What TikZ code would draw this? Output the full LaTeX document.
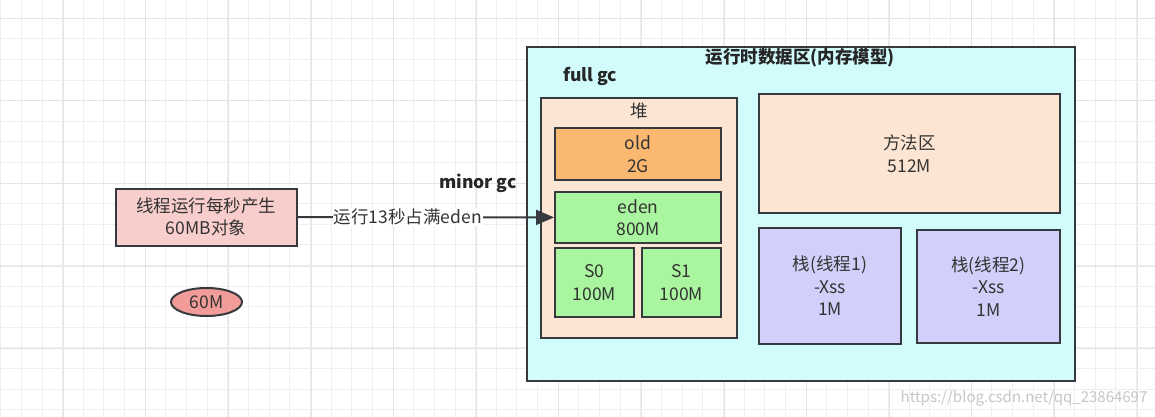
\documentclass[tikz,border=0pt]{standalone}
\usepackage{fontspec}
\setmainfont{Noto Sans CJK SC}
\usepackage{xcolor}
\usetikzlibrary{arrows.meta,shapes.geometric}

\definecolor{linec}{HTML}{36393D}
\definecolor{textc}{HTML}{333333}
\definecolor{gridc}{HTML}{EFEFEF}
\definecolor{gridmaj}{HTML}{E4E4E4}
\definecolor{pinkc}{HTML}{F8CECC}
\definecolor{redc}{HTML}{F19C99}
\definecolor{cyanc}{HTML}{D2FCFC}
\definecolor{peachc}{HTML}{FCE5D2}
\definecolor{orangec}{HTML}{FAB870}
\definecolor{greenc}{HTML}{A9F5A0}
\definecolor{lilacc}{HTML}{D0D0FA}

\begin{document}
\begin{tikzpicture}[x=1pt, y=-1pt,
    every node/.style={font=\fontsize{17.5}{22.5}\selectfont, text=textc},
    blk/.style={draw=linec, line width=2pt, align=center, inner sep=0pt},
    heading/.style={font=\fontsize{17.5}{22}\selectfont\bfseries, text=black!85}]
      \useasboundingbox (0,0) rectangle (1155,417);
      \fill[white] (0,0) rectangle (1155,417);

      % Grid
      \foreach \k in {0,...,55}
        \draw[gridc, line width=1pt] ({0.7+20.65*\k},0) -- ++(0,417);
      \foreach \k in {0,...,19}
        \draw[gridc, line width=1pt] (0,{18.3+20.6*\k}) -- ++(1155,0);
      \foreach \k in {0,...,13}
        \draw[gridmaj, line width=1pt] ({63.3+82.6*\k},0) -- ++(0,417);
      \foreach \k in {0,...,4}
        \draw[gridmaj, line width=1pt] (0,{18.3+82.6*\k}) -- ++(1155,0);

      % Thread and object
      \node[blk, fill=pinkc, minimum width=181pt, minimum height=57pt] (thread) at (206,217) {线程运行每秒产生\\60MB对象};
      \node[ellipse, draw=linec, line width=2pt, fill=redc, minimum width=71pt, minimum height=28pt, inner sep=0pt] (obj) at (206.5,302) {60M};

      % Runtime data area
      \node[blk, fill=cyanc, minimum width=548pt, minimum height=334pt] (runtime) at (801,214) {};
      \node[heading] (rtitle) at (800,58) {运行时数据区(内存模型)};
      \node[heading] (fullgc) at (590,76) {full gc};
      \node[heading] (minorgc) at (478,183) {minor gc};

      % Heap
      \node[blk, fill=peachc, minimum width=196pt, minimum height=240pt] (heap) at (639,218) {};
      \node (heaplabel) at (639,111) {堆};
      \node[blk, fill=orangec, minimum width=166pt, minimum height=52pt] (old) at (638,154) {old\\2G};
      \node[blk, fill=greenc, minimum width=166pt, minimum height=51pt] (eden) at (638,217.5) {eden\\800M};
      \node[blk, fill=greenc, minimum width=79pt, minimum height=69pt] (s0) at (594.5,282.5) {S0\\100M};
      \node[blk, fill=greenc, minimum width=79pt, minimum height=69pt] (s1) at (681.5,282.5) {S1\\100M};

      % Method area and stacks
      \node[blk, fill=peachc, minimum width=301pt, minimum height=119pt] (method) at (909.5,153.5) {方法区\\512M};
      \node[blk, fill=lilacc, minimum width=142pt, minimum height=116pt] (stack1) at (830,286) {栈(线程1)\\-Xss\\1M};
      \node[blk, fill=lilacc, minimum width=143pt, minimum height=113pt] (stack2) at (988.5,286.5) {栈(线程2)\\-Xss\\1M};

      % Allocation arrow
      \draw[linec, line width=2pt, -{Triangle[length=18pt,width=15pt]}] (thread) -- node[pos=0.43, fill=white, inner sep=1pt] {运行13秒占满eden} (eden);

      % Watermark
      \node[text=gray!45, font=\fontsize{15}{18}\selectfont] (mark) at (1024,398) {https://blog.csdn.net/qq\_23864697};
    \end{tikzpicture}
\end{document}
